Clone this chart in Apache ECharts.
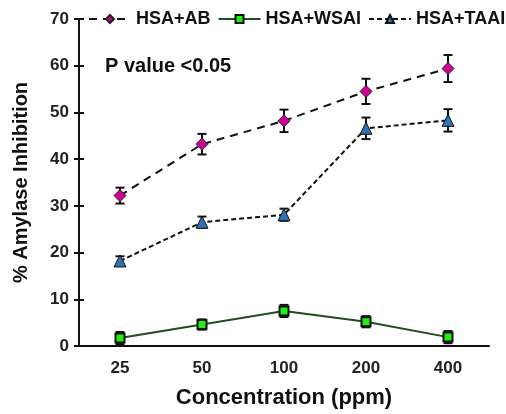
<!DOCTYPE html>
<html>
<head>
<meta charset="utf-8">
<script src="https://cdn.jsdelivr.net/npm/echarts@6/dist/echarts.min.js"></script>
<style>
  html, body { margin: 0; padding: 0; background: #fff; }
  #chart { width: 506px; height: 414px; }
</style>
</head>
<body>
<div id="chart"></div>
<script>
// data
var concentrations = ['25', '50', '100', '200', '400'];
var yTicks = [0, 10, 20, 30, 40, 50, 60, 70];

var abValues = [32.2, 43.2, 48.2, 54.5, 59.4];
var abErrors = [1.7, 2.2, 2.4, 2.7, 2.9];

var wsaiValues = [1.7, 4.6, 7.5, 5.2, 1.9];
var wsaiErrors = [1.3, 1.1, 1.3, 1.2, 1.3];

var taaiValues = [18.2, 26.5, 28.1, 46.6, 48.3];
var taaiErrors = [1.0, 1.2, 1.3, 2.3, 2.4];

var FONT = 'Liberation Sans';
var GRID = { left: 79, right: 17, top: 19, bottom: 66 };
var W = 506, H = 414;

function errorData(values, errors) {
  var out = [];
  for (var i = 0; i < values.length; i++) {
    out.push([i, values[i] - errors[i], values[i] + errors[i]]);
  }
  return out;
}

function errorSeries(values, errors) {
  return {
    type: 'custom',
    z: 1,
    silent: true,
    renderItem: function(params, api) {
      var lo = api.coord([api.value(0), api.value(1)]);
      var hi = api.coord([api.value(0), api.value(2)]);
      var cap = 4.5;
      var style = { stroke: '#111', lineWidth: 2 };
      return {
        type: 'group',
        children: [
          { type: 'line', shape: { x1: lo[0], y1: lo[1], x2: hi[0], y2: hi[1] }, style: style },
          { type: 'line', shape: { x1: lo[0] - cap, y1: lo[1], x2: lo[0] + cap, y2: lo[1] }, style: style },
          { type: 'line', shape: { x1: hi[0] - cap, y1: hi[1], x2: hi[0] + cap, y2: hi[1] }, style: style }
        ]
      };
    },
    data: errorData(values, errors)
  };
}

var chart = echarts.init(document.getElementById('chart'));

var tickStyle = { color: '#111', width: 2 };
var labelStyle = { fontFamily: FONT, fontWeight: 'bold', fontSize: 17, color: '#222' };

var option = {
  animation: false,
  textStyle: { fontFamily: FONT },
  grid: GRID,
  legend: {
    left: 88,
    top: 6,
    width: 418,
    padding: [4, 0, 4, 0],
    itemWidth: 42,
    itemHeight: 10,
    itemGap: 7,
    textStyle: { fontFamily: FONT, fontWeight: 'bold', fontSize: 18, color: '#111' },
    data: ['HSA+AB', 'HSA+WSAI', 'HSA+TAAI']
  },
  graphic: [{
    type: 'text',
    left: 105,
    top: 56,
    style: { text: 'P value <0.05', font: 'bold 20px "Liberation Sans"', fill: '#111' }
  }],
  xAxis: [{
    type: 'category',
    data: concentrations,
    name: 'Concentration (ppm)',
    nameLocation: 'middle',
    nameGap: 41,
    nameTextStyle: { fontFamily: FONT, fontWeight: 'bold', fontSize: 22, color: '#111' },
    axisLine: { lineStyle: { color: '#111', width: 2 } },
    axisTick: { length: 5, lineStyle: tickStyle },
    axisLabel: Object.assign({ margin: 14 }, labelStyle),
    splitLine: { show: false }
  }, {
    // second copy only for the upward half of the crossing ticks
    type: 'category',
    data: concentrations,
    position: 'top',
    offset: -(H - GRID.top - GRID.bottom),
    axisLine: { show: false },
    axisTick: { length: 5, lineStyle: tickStyle },
    axisLabel: { show: false }
  }],
  yAxis: [{
    type: 'value',
    min: yTicks[0],
    max: yTicks[yTicks.length - 1],
    interval: 10,
    name: '% Amylase Inhibition',
    nameLocation: 'middle',
    nameGap: 48,
    nameTextStyle: { fontFamily: FONT, fontWeight: 'bold', fontSize: 20, color: '#111' },
    axisLine: { show: true, lineStyle: { color: '#111', width: 2 } },
    axisTick: { show: true, length: 5, lineStyle: tickStyle },
    axisLabel: Object.assign({ margin: 10 }, labelStyle),
    splitLine: { show: false }
  }, {
    type: 'value',
    min: yTicks[0],
    max: yTicks[yTicks.length - 1],
    interval: 10,
    position: 'right',
    offset: -(W - GRID.left - GRID.right),
    axisLine: { show: false },
    axisTick: { show: true, length: 5, lineStyle: tickStyle },
    axisLabel: { show: false },
    splitLine: { show: false }
  }],
  series: [
    {
      name: 'HSA+AB',
      type: 'line',
      z: 3,
      data: abValues,
      symbol: 'diamond',
      symbolSize: 12,
      itemStyle: { color: '#cc0099', borderColor: '#222', borderWidth: 1 },
      lineStyle: { color: '#111', width: 2, type: [8, 6] }
    },
    {
      name: 'HSA+WSAI',
      type: 'line',
      z: 3,
      data: wsaiValues,
      symbol: 'rect',
      symbolSize: 9,
      itemStyle: { color: '#22ee11', borderColor: '#111', borderWidth: 2 },
      lineStyle: { color: '#1e4d1e', width: 2, type: 'solid' }
    },
    {
      name: 'HSA+TAAI',
      type: 'line',
      z: 3,
      data: taaiValues,
      symbol: 'triangle',
      symbolSize: 12,
      itemStyle: { color: '#2e74b5', borderColor: '#111', borderWidth: 1 },
      lineStyle: { color: '#111', width: 2, type: [5, 3] }
    },
    errorSeries(abValues, abErrors),
    errorSeries(wsaiValues, wsaiErrors),
    errorSeries(taaiValues, taaiErrors)
  ]
};

chart.setOption(option);
</script>
</body>
</html>
